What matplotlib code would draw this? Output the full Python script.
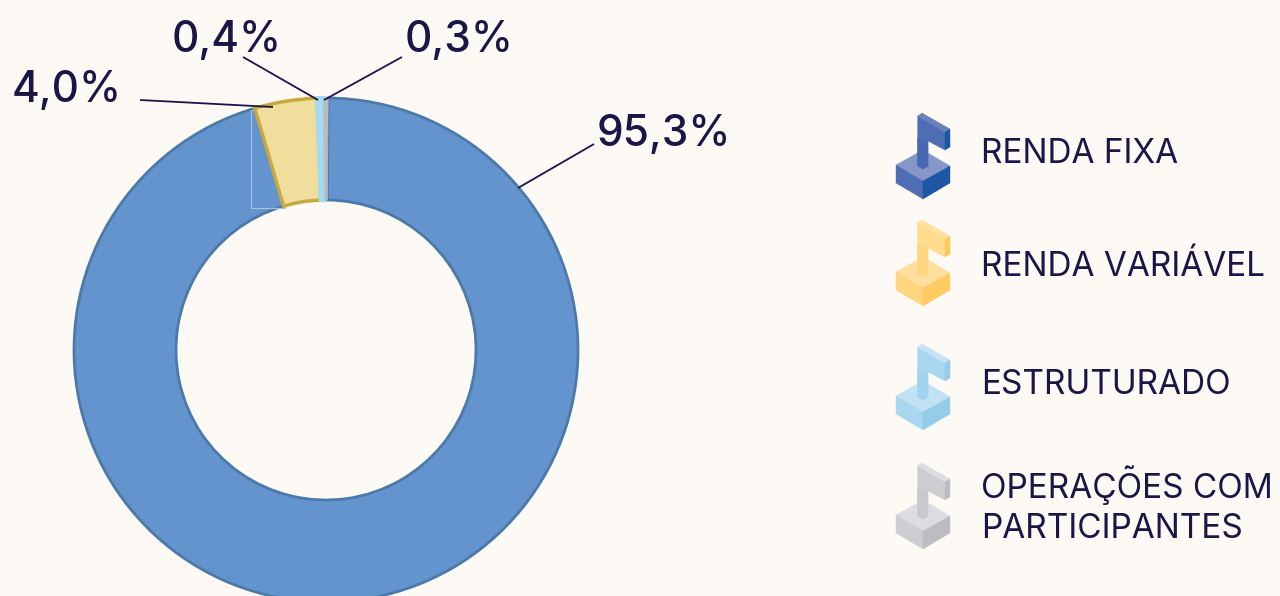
#!/usr/bin/env python3
"""Donut chart of allocation shares with isometric flag legend icons."""
import matplotlib
matplotlib.use("Agg")
import matplotlib.pyplot as plt
from matplotlib.patches import Polygon, Rectangle

W, H = 1280, 596
BG = "#fdfaf5"
NAVY = "#1b1648"

values = [95.3, 4.0, 0.4, 0.3]
pct_labels = ["95,3%", "4,0%", "0,4%", "0,3%"]
legend_labels = ["RENDA FIXA", "RENDA VARIÁVEL", "ESTRUTURADO", "OPERAÇÕES COM\nPARTICIPANTES"]
fill_colors = ["#6494cd", "#f1de9d", "#a5dbf2", "#b9bbbe"]
edge_colors = ["#4b79aa", "#c8a93f", "#a5dbf2", "#b9bbbe"]


def py(y):
    # reference is measured from the top
    return H - y


plt.rcParams["font.family"] = ["Inter", "DejaVu Sans"]
fig = plt.figure(figsize=(W / 100, H / 100), dpi=100, facecolor=BG)
ax = fig.add_axes([0, 0, 1, 1])
ax.set_facecolor(BG)

cx, cy, r_out, r_in = 326, 350, 252, 150
wedges, _ = ax.pie(values, center=(cx, py(cy)), radius=r_out, startangle=89.5,
                   counterclock=False, colors=fill_colors,
                   wedgeprops=dict(width=r_out - r_in, linewidth=2), frame=True)
for w, ec in zip(wedges, edge_colors):
    w.set_edgecolor(ec)
# light blue and grey slivers sit on top of their neighbours' outlines
wedges[1].set_linewidth(2.5)
wedges[1].set_zorder(3)
wedges[2].set_linewidth(3)
wedges[2].set_zorder(4)
wedges[3].set_linewidth(0.5)
wedges[3].set_zorder(4.5)

# faint box left over around the yellow slice in the source
ax.add_patch(Rectangle((251, py(208)), 34, 98, fill=False, ec="#a9c2e0", lw=0.8, zorder=2))

ax.set_xlim(0, W)
ax.set_ylim(0, H)
ax.set_aspect("equal")
ax.axis("off")

# leader lines
leaders = [((594, 144), (518, 188)), ((140, 100), (273, 107)),
           ((243, 57), (318, 100)), ((402, 57), (324, 100))]
for (x0, y0), (x1, y1) in leaders:
    ax.plot([x0, x1], [py(y0), py(y1)], color=NAVY, lw=1.3, zorder=5, solid_capstyle="butt")

label_pos = [(597, 135), (12, 91), (172, 41), (405, 41)]
for s, (x, y) in zip(pct_labels, label_pos):
    ax.text(x, py(y), s, ha="left", va="center", fontsize=30.5, fontweight="medium",
            color=NAVY, zorder=6)

# legend icons: one colour per face, same order as shapes below
icon_tops = [113, 220, 344, 463]
icon_cols = [
    ["#6a80bd", "#4f6db5", "#1d57a4", "#4868b2", "#8796c8", "#4f6db5", "#1d57a4"],
    ["#ffe09c", "#ffdb8e", "#ffc95c", "#ffd57f", "#ffdf9e", "#ffd680", "#ffcb62"],
    ["#c4e3f4", "#a9d7ef", "#93cdea", "#a2d3ed", "#c1e1f4", "#a9d7ef", "#93cdea"],
    ["#dcdde0", "#cdced1", "#bcbdc1", "#c8c9cc", "#dcdde0", "#cdced1", "#bcbdc1"],
]
# faces: flag top, flag front, flag side, pole, base top, base left, base right
shapes = [
    [(21.7, 3), (26, 0), (54, 16), (49, 19)],
    [(21.7, 3), (49, 19), (49, 37), (32, 28), (32, 53), (27, 56), (21.7, 53)],
    [(49, 19), (54, 16), (54, 34), (49, 37)],
    [(21.7, 25), (32, 28), (32, 53), (27, 56), (21.7, 53)],
    [(0, 52), (27, 37), (54, 53), (27, 68)],
    [(0, 52), (27, 68), (27, 86), (0, 70)],
    [(27, 68), (54, 53), (54, 70), (27, 86)],
]
draw_order = [4, 5, 6, 1, 3, 0, 2]
for top, cols in zip(icon_tops, icon_cols):
    for i in draw_order:
        pts = [(896 + dx, py(top + dy)) for dx, dy in shapes[i]]
        ax.add_patch(Polygon(pts, closed=True, fc=cols[i], ec=cols[i], lw=0.3, zorder=4))

legend_y = [154, 267, 385, 505]
for s, y in zip(legend_labels, legend_y):
    ax.text(981, py(y), s, ha="left", va="center", fontsize=24, color=NAVY,
            linespacing=1.3, zorder=6)

fig.savefig("out.png", dpi=100, facecolor=BG)
